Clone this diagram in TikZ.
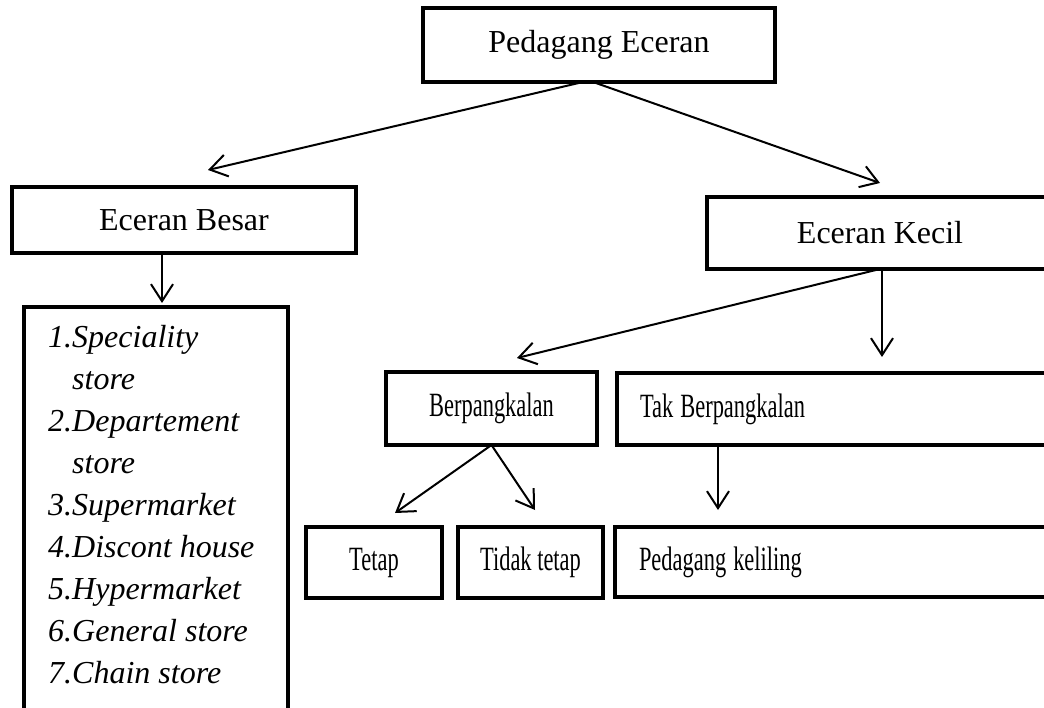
\documentclass[tikz,border=0pt]{standalone}
\usepackage{fontspec}
\setmainfont{Liberation Serif}
\usepackage{graphicx}
\usetikzlibrary{arrows.meta}

\newcommand{\sempit}[1]{\scalebox{0.66}[1]{\fontsize{34}{40}\selectfont #1}}

\begin{document}
\begin{tikzpicture}[x=1pt, y=-1pt,
  kotak/.style={draw, line width=4pt, inner sep=0pt, outer sep=0pt},
  panah/.style={-{Straight Barb[length=17pt, width=22pt]}, line width=2pt},
  font=\fontsize{32}{38}\selectfont]
  \useasboundingbox (0,0) rectangle (1044,708);
  \clip (0,0) rectangle (1044,708);

  % tingkat 1 dan 2
  \node[kotak, minimum width=352pt, minimum height=74pt] (pe) at (599,45) {Pedagang Eceran};
  \node[kotak, minimum width=344pt, minimum height=66pt] (eb) at (184,220) {Eceran Besar};
  \node[kotak, minimum width=346pt, minimum height=72pt] (ek) at (880,233) {Eceran Kecil};

  % daftar eceran besar
  \node[kotak, minimum width=264pt, minimum height=430pt] (toko) at (156,522) {};
  \node[anchor=north west, inner sep=0pt, font=\fontsize{32}{42}\selectfont\itshape] (daftar) at (48,317.6)
    {\begin{tabular}{@{}l@{}}
      1.Speciality\\
      \hspace*{24pt}store\\
      2.Departement\\
      \hspace*{24pt}store\\
      3.Supermarket\\
      4.Discont house\\
      5.Hypermarket\\
      6.General store\\
      7.Chain store
    \end{tabular}};

  % eceran kecil
  \node[kotak, minimum width=211pt, minimum height=73pt] (bp) at (491.5,408.5) {\sempit{Berpangkalan}};
  \node[kotak, text width=397pt, align=left, inner xsep=23pt, minimum height=72pt] (tb) at (838.5,409) {\sempit{Tak Berpangkalan}};
  \node[kotak, minimum width=136pt, minimum height=71pt] (tt) at (374,562.5) {\sempit{Tetap}};
  \node[kotak, minimum width=145pt, minimum height=71pt] (tdt) at (530.5,562.5) {\sempit{Tidak tetap}};
  \node[kotak, text width=397pt, align=left, inner xsep=24pt, minimum height=70pt] (pk) at (837.5,562) {\sempit{Pedagang keliling}};

  % ujung panah
  \coordinate (uEB) at (208,170);
  \coordinate (uEK) at (880,183);
  \coordinate (uToko) at (162,303);
  \coordinate (uBP) at (517,358);
  \coordinate (uTB) at (882,357);
  \coordinate (uTT) at (395,513);
  \coordinate (uTDT) at (535,510);
  \coordinate (uPK) at (718,510);

  \draw[panah] ([xshift=-16pt]pe.south) -- (uEB);
  \draw[panah] ([xshift=-6pt]pe.south) -- (uEK);
  \draw[panah] (uToko |- eb.south) -- (uToko);
  \draw[panah] (ek.south) -- (uBP);
  \draw[panah] (uTB |- ek.south) -- (uTB);
  \draw[panah] (bp.south) -- (uTT);
  \draw[panah] (bp.south) -- (uTDT);
  \draw[panah] (uPK |- tb.south) -- (uPK);
\end{tikzpicture}
\end{document}
